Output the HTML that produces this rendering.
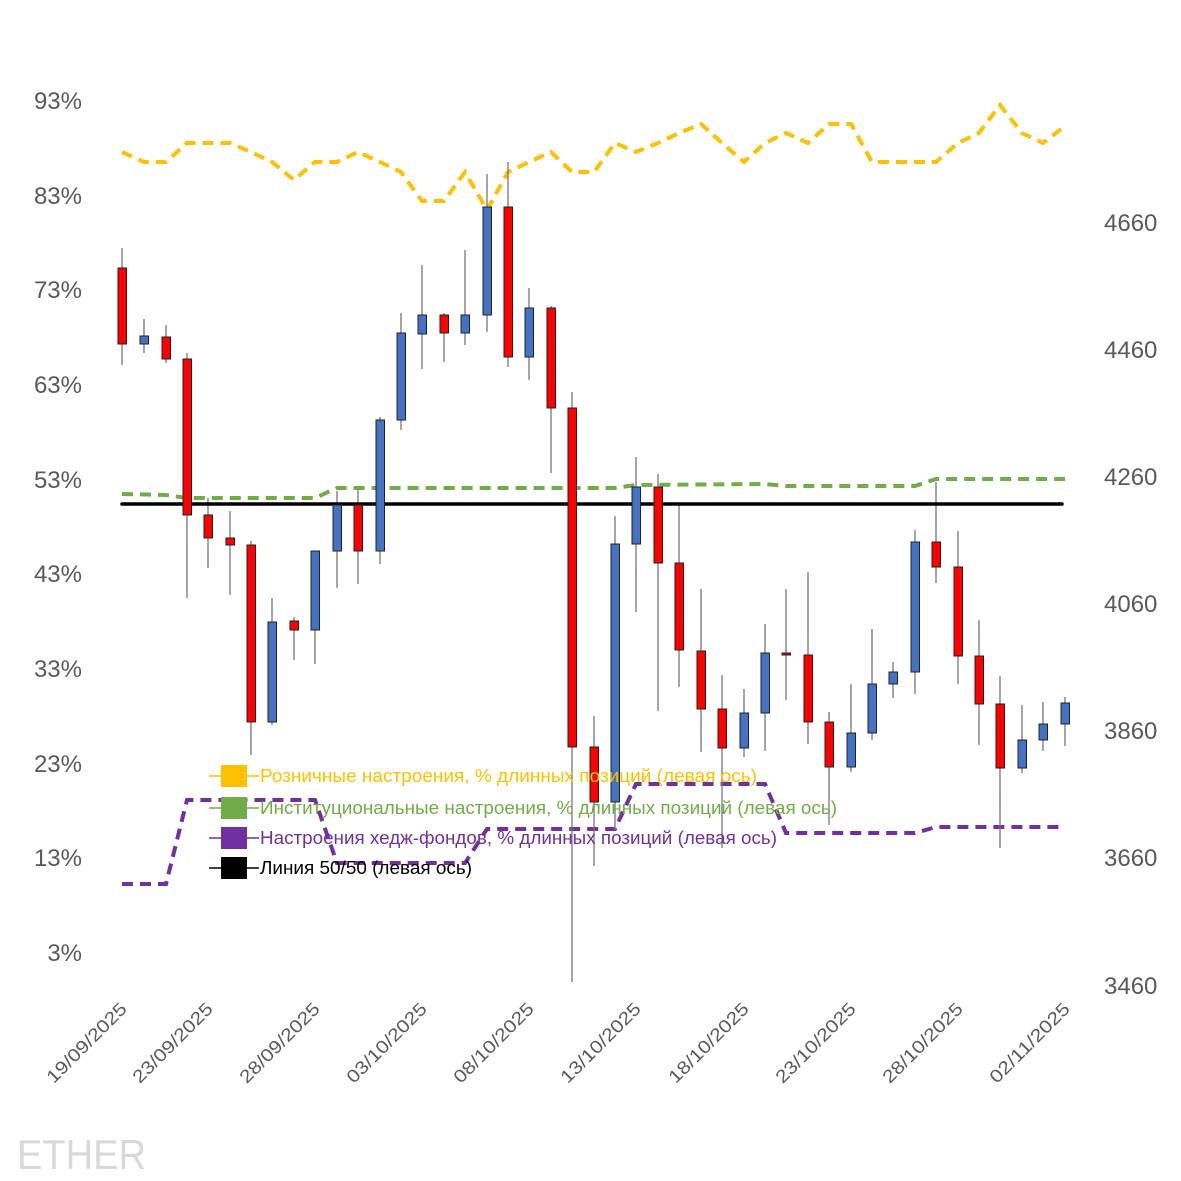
<!DOCTYPE html>
<html><head><meta charset="utf-8"><style>
html,body{margin:0;padding:0;background:#fff}
svg{display:block;font-family:"Liberation Sans",sans-serif}
</style></head><body>
<svg width="1181" height="1181" viewBox="0 0 1181 1181" xmlns="http://www.w3.org/2000/svg">
<rect width="1181" height="1181" fill="#fff"/>
<g font-size="24" fill="#595959" text-anchor="end">
<text x="82" y="109">93%</text><text x="82" y="204">83%</text><text x="82" y="298">73%</text>
<text x="82" y="393">63%</text><text x="82" y="488">53%</text><text x="82" y="582">43%</text>
<text x="82" y="677">33%</text><text x="82" y="772">23%</text><text x="82" y="866">13%</text>
<text x="82" y="961">3%</text>
</g>
<g font-size="24" fill="#595959">
<text x="1104" y="231">4660</text><text x="1104" y="358">4460</text><text x="1104" y="485">4260</text>
<text x="1104" y="612">4060</text><text x="1104" y="739">3860</text><text x="1104" y="866">3660</text>
<text x="1104" y="994">3460</text>
</g>
<g font-size="18" fill="#595959" text-anchor="end">
<text transform="translate(128,1010) rotate(-45)" textLength="105" lengthAdjust="spacingAndGlyphs">19/09/2025</text>
<text transform="translate(214,1010) rotate(-45)" textLength="105" lengthAdjust="spacingAndGlyphs">23/09/2025</text>
<text transform="translate(321,1010) rotate(-45)" textLength="105" lengthAdjust="spacingAndGlyphs">28/09/2025</text>
<text transform="translate(428,1010) rotate(-45)" textLength="105" lengthAdjust="spacingAndGlyphs">03/10/2025</text>
<text transform="translate(535,1010) rotate(-45)" textLength="105" lengthAdjust="spacingAndGlyphs">08/10/2025</text>
<text transform="translate(642,1010) rotate(-45)" textLength="105" lengthAdjust="spacingAndGlyphs">13/10/2025</text>
<text transform="translate(750,1010) rotate(-45)" textLength="105" lengthAdjust="spacingAndGlyphs">18/10/2025</text>
<text transform="translate(857,1010) rotate(-45)" textLength="105" lengthAdjust="spacingAndGlyphs">23/10/2025</text>
<text transform="translate(964,1010) rotate(-45)" textLength="105" lengthAdjust="spacingAndGlyphs">28/10/2025</text>
<text transform="translate(1071,1010) rotate(-45)" textLength="105" lengthAdjust="spacingAndGlyphs">02/11/2025</text>
</g>
<polyline fill="none" stroke="#FFC000" stroke-width="4" stroke-dasharray="11,7" points="122,152 144,162 166,162 187,143 208,143 230,143 251,152 272,162 294,180 315,162 337,162 358,152 380,162 401,172 422,201 444,201 465,172 487,210 508,172 529,162 551,152 572,172 594,172 615,143 636,152 658,143 679,133 701,124 722,143 744,162 765,143 786,133 808,143 829,124 851,124 872,162 893,162 915,162 936,162 958,143 979,133 1000,105 1022,133 1043,143 1065,126"/>
<polyline fill="none" stroke="#70AD47" stroke-width="4" stroke-dasharray="11,7" points="122,494 166,495 187,498 315,498 337,488 615,488 636,485 765,484 786,486 915,486 936,479 1065,479"/>
<polyline fill="none" stroke="#7030A0" stroke-width="4" stroke-dasharray="11,7" points="122,884 166,884 187,800 315,800 337,863 465,863 487,829 615,829 636,784 765,784 786,833 915,833 936,827 1065,827"/>
<g stroke="#777" stroke-width="1.3">
<line x1="122" y1="248" x2="122" y2="365"/><line x1="144" y1="319" x2="144" y2="353"/><line x1="166" y1="325" x2="166" y2="363"/><line x1="187" y1="353" x2="187" y2="598"/><line x1="208" y1="498" x2="208" y2="568"/><line x1="230" y1="511" x2="230" y2="595"/><line x1="251" y1="541" x2="251" y2="755"/><line x1="272" y1="598" x2="272" y2="725"/><line x1="294" y1="617" x2="294" y2="660"/><line x1="315" y1="551" x2="315" y2="664"/><line x1="337" y1="491" x2="337" y2="588"/><line x1="358" y1="490" x2="358" y2="584"/><line x1="380" y1="417" x2="380" y2="564"/><line x1="401" y1="313" x2="401" y2="430"/><line x1="422" y1="265" x2="422" y2="369"/><line x1="444" y1="313" x2="444" y2="362"/><line x1="465" y1="250" x2="465" y2="345"/><line x1="487" y1="174" x2="487" y2="332"/><line x1="508" y1="162" x2="508" y2="367"/><line x1="529" y1="288" x2="529" y2="380"/><line x1="551" y1="306" x2="551" y2="473"/><line x1="572" y1="392" x2="572" y2="982"/><line x1="594" y1="716" x2="594" y2="866"/><line x1="615" y1="516" x2="615" y2="830"/><line x1="636" y1="457" x2="636" y2="612"/><line x1="658" y1="474" x2="658" y2="711"/><line x1="679" y1="505" x2="679" y2="687"/><line x1="701" y1="589" x2="701" y2="752"/><line x1="722" y1="675" x2="722" y2="848"/><line x1="744" y1="689" x2="744" y2="757"/><line x1="765" y1="624" x2="765" y2="751"/><line x1="786" y1="589" x2="786" y2="700"/><line x1="808" y1="572" x2="808" y2="744"/><line x1="829" y1="712" x2="829" y2="825"/><line x1="851" y1="684" x2="851" y2="772"/><line x1="872" y1="629" x2="872" y2="740"/><line x1="893" y1="662" x2="893" y2="698"/><line x1="915" y1="530" x2="915" y2="694"/><line x1="936" y1="482" x2="936" y2="583"/><line x1="958" y1="531" x2="958" y2="684"/><line x1="979" y1="620" x2="979" y2="745"/><line x1="1000" y1="676" x2="1000" y2="848"/><line x1="1022" y1="705" x2="1022" y2="773"/><line x1="1043" y1="702" x2="1043" y2="751"/><line x1="1065" y1="697" x2="1065" y2="746"/>
</g>
<line x1="122" y1="504" x2="1062" y2="504" stroke="#000" stroke-width="3.5" stroke-linecap="round"/>
<g stroke="#222" stroke-width="1">
<rect x="118" y="268" width="8.5" height="76" fill="#FF0000"/>
<rect x="140" y="336" width="8.5" height="8" fill="#4472C4"/>
<rect x="162" y="337" width="8.5" height="22" fill="#FF0000"/>
<rect x="183" y="359" width="8.5" height="156" fill="#FF0000"/>
<rect x="204" y="515" width="8.5" height="23" fill="#FF0000"/>
<rect x="226" y="538" width="8.5" height="7" fill="#FF0000"/>
<rect x="247" y="545" width="8.5" height="177" fill="#FF0000"/>
<rect x="268" y="622" width="8.5" height="100" fill="#4472C4"/>
<rect x="290" y="621" width="8.5" height="9" fill="#FF0000"/>
<rect x="311" y="551" width="8.5" height="79" fill="#4472C4"/>
<rect x="333" y="505" width="8.5" height="46" fill="#4472C4"/>
<rect x="354" y="505" width="8.5" height="46" fill="#FF0000"/>
<rect x="376" y="420" width="8.5" height="131" fill="#4472C4"/>
<rect x="397" y="333" width="8.5" height="87" fill="#4472C4"/>
<rect x="418" y="315" width="8.5" height="19" fill="#4472C4"/>
<rect x="440" y="315" width="8.5" height="18" fill="#FF0000"/>
<rect x="461" y="315" width="8.5" height="18" fill="#4472C4"/>
<rect x="483" y="207" width="8.5" height="108" fill="#4472C4"/>
<rect x="504" y="207" width="8.5" height="150" fill="#FF0000"/>
<rect x="525" y="308" width="8.5" height="49" fill="#4472C4"/>
<rect x="547" y="308" width="8.5" height="100" fill="#FF0000"/>
<rect x="568" y="408" width="8.5" height="339" fill="#FF0000"/>
<rect x="590" y="747" width="8.5" height="55" fill="#FF0000"/>
<rect x="611" y="544" width="8.5" height="258" fill="#4472C4"/>
<rect x="632" y="487" width="8.5" height="57" fill="#4472C4"/>
<rect x="654" y="487" width="8.5" height="76" fill="#FF0000"/>
<rect x="675" y="563" width="8.5" height="87" fill="#FF0000"/>
<rect x="697" y="651" width="8.5" height="58" fill="#FF0000"/>
<rect x="718" y="709" width="8.5" height="39" fill="#FF0000"/>
<rect x="740" y="713" width="8.5" height="35" fill="#4472C4"/>
<rect x="761" y="653" width="8.5" height="60" fill="#4472C4"/>
<rect x="782" y="653" width="8.5" height="2" fill="#FF0000"/>
<rect x="804" y="655" width="8.5" height="67" fill="#FF0000"/>
<rect x="825" y="722" width="8.5" height="45" fill="#FF0000"/>
<rect x="847" y="733" width="8.5" height="34" fill="#4472C4"/>
<rect x="868" y="684" width="8.5" height="49" fill="#4472C4"/>
<rect x="889" y="672" width="8.5" height="12" fill="#4472C4"/>
<rect x="911" y="542" width="8.5" height="130" fill="#4472C4"/>
<rect x="932" y="542" width="8.5" height="25" fill="#FF0000"/>
<rect x="954" y="567" width="8.5" height="89" fill="#FF0000"/>
<rect x="975" y="656" width="8.5" height="48" fill="#FF0000"/>
<rect x="996" y="704" width="8.5" height="64" fill="#FF0000"/>
<rect x="1018" y="740" width="8.5" height="28" fill="#4472C4"/>
<rect x="1039" y="724" width="8.5" height="16" fill="#4472C4"/>
<rect x="1061" y="703" width="8.5" height="21" fill="#4472C4"/>
</g>
<g font-size="18">
<line x1="209" y1="776" x2="259" y2="776" stroke="#FFC000" stroke-width="1.5"/>
<rect x="221" y="765" width="26" height="22" fill="#FFC000"/>
<text x="260" y="782" fill="#FFC000" textLength="497" lengthAdjust="spacingAndGlyphs">Розничные настроения, % длинных позиций (левая ось)</text>
<line x1="209" y1="808" x2="259" y2="808" stroke="#70AD47" stroke-width="1.5"/>
<rect x="221" y="797" width="26" height="22" fill="#70AD47"/>
<text x="260" y="814" fill="#70AD47" textLength="577" lengthAdjust="spacingAndGlyphs">Институциональные настроения, % длинных позиций (левая ось)</text>
<line x1="209" y1="838" x2="259" y2="838" stroke="#7030A0" stroke-width="1.5"/>
<rect x="221" y="827" width="26" height="22" fill="#7030A0"/>
<text x="260" y="844" fill="#7030A0" textLength="517" lengthAdjust="spacingAndGlyphs">Настроения хедж-фондов, % длинных позиций (левая ось)</text>
<line x1="209" y1="868" x2="259" y2="868" stroke="#000" stroke-width="1.5"/>
<rect x="221" y="857" width="26" height="22" fill="#000"/>
<text x="260" y="874" fill="#000" textLength="212" lengthAdjust="spacingAndGlyphs">Линия 50/50 (левая ось)</text>
</g>
<text x="17" y="1169" font-size="42" fill="#D9D9D9" textLength="129" lengthAdjust="spacingAndGlyphs">ETHER</text>
</svg>
</body></html>
